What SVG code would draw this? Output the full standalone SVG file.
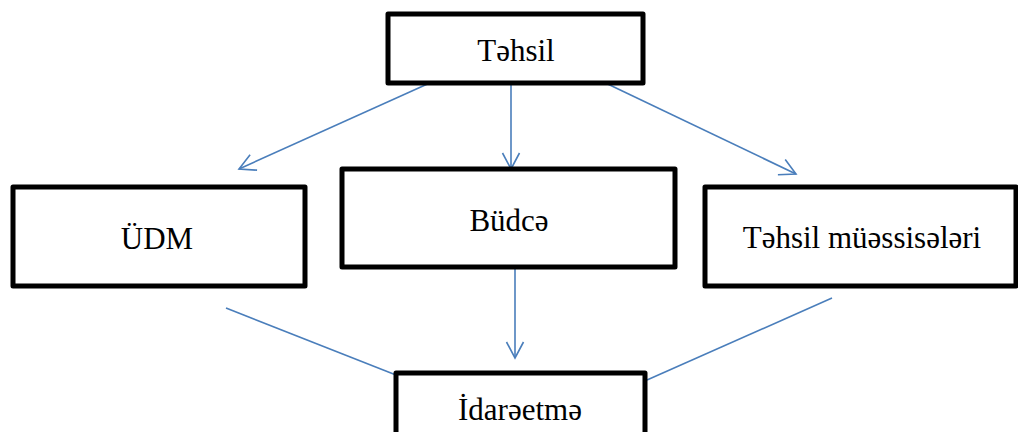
<svg xmlns="http://www.w3.org/2000/svg" width="1018" height="432" viewBox="0 0 1018 432">
<style>
.box{fill:#fff;stroke:#000;stroke-width:5;stroke-linejoin:round}
.lbl{font-size:31px;fill:#000;text-anchor:middle}
.con{stroke:#4A7EBB;stroke-width:1.6;fill:none}
</style>
<defs>
<marker id="ah" markerUnits="userSpaceOnUse" markerWidth="40" markerHeight="40" viewBox="-20 -20 40 40" refX="0" refY="0" orient="auto">
<path d="M-16,-8.5 L0,0 L-16,8.5" fill="none" stroke="#4A7EBB" stroke-width="1.6"/>
</marker>
</defs>
<rect width="1018" height="432" fill="#fff"/>
<g id="connectors">
<line class="con" x1="443" y1="77" x2="239" y2="169" marker-end="url(#ah)"/>
<line class="con" x1="511" y1="73" x2="511" y2="169" marker-end="url(#ah)"/>
<line class="con" x1="593" y1="77" x2="796" y2="174" marker-end="url(#ah)"/>
<line class="con" x1="515" y1="253" x2="515" y2="358" marker-end="url(#ah)"/>
<line class="con" x1="226" y1="308" x2="396" y2="375"/>
<line class="con" x1="647" y1="380" x2="832" y2="298"/>
</g>
<g font-family="Liberation Serif, Times New Roman, serif">
<g id="tehsil">
<rect class="box" x="388" y="14" width="255" height="69"/>
<text class="lbl" x="516" y="61">Təhsil</text>
</g>
<g id="udm">
<rect class="box" x="13" y="187" width="292" height="99"/>
<text class="lbl" x="157" y="249">ÜDM</text>
</g>
<g id="budce">
<rect class="box" x="342" y="169" width="333" height="98"/>
<text class="lbl" x="509" y="231">Büdcə</text>
</g>
<g id="tehsil-muessiseleri">
<rect class="box" x="705" y="187" width="311" height="99"/>
<text class="lbl" x="862" y="248">Təhsil müəssisələri</text>
</g>
<g id="idareetme">
<rect class="box" x="396" y="373" width="249" height="70"/>
<text class="lbl" x="520" y="420">İdarəetmə</text>
</g>
</g>
</svg>
